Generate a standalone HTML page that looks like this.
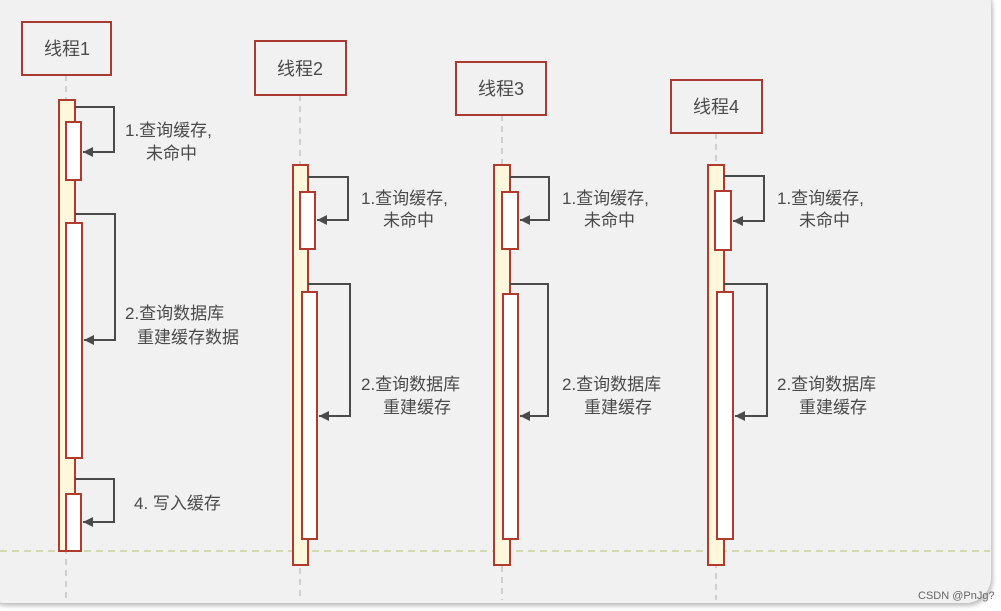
<!DOCTYPE html>
<html><head><meta charset="utf-8"><style>
html,body{margin:0;padding:0;background:#fff;}
svg{display:block;}
text{font-family:"Liberation Sans","Noto Sans CJK SC",sans-serif;fill:#4a4a4a;}
</style></head><body>
<svg width="1001" height="611" viewBox="0 0 1001 611" xmlns="http://www.w3.org/2000/svg">
<defs>
<filter id="sh" x="-5%" y="-5%" width="110%" height="110%"><feDropShadow dx="2" dy="3" stdDeviation="2" flood-color="#000" flood-opacity="0.25"/></filter>
<marker id="ah" markerWidth="12" markerHeight="12" refX="10" refY="5" orient="auto" markerUnits="userSpaceOnUse"><path d="M0,0 L10,5 L0,10 z" fill="#4a4a4a"/></marker>
</defs>
<rect x="-20" y="-20" width="1011" height="623" rx="26" fill="#f1f1f1" filter="url(#sh)"/>
<rect x="-20" y="-20" width="40" height="40" fill="#f1f1f1"/>
<g stroke="#c4c4c4" stroke-width="1.5" stroke-dasharray="6,5">
<line x1="66" y1="75" x2="66" y2="600"/>
<line x1="300" y1="95" x2="300" y2="600"/>
<line x1="502" y1="115" x2="502" y2="600"/>
<line x1="716" y1="133" x2="716" y2="600"/>
</g>
<line x1="0" y1="551" x2="990" y2="551" stroke="#c9cf9b" stroke-width="1.5" stroke-dasharray="7,5"/>
<g fill="#f1f1f1" stroke="#a83a32" stroke-width="2">
<rect x="22" y="22" width="89" height="53"/>
<rect x="255" y="41" width="91" height="54"/>
<rect x="456" y="62" width="90" height="53"/>
<rect x="671" y="80" width="91" height="53"/>
</g>
<g font-size="18" text-anchor="middle">
<text x="67" y="55">线程1</text>
<text x="300" y="75">线程2</text>
<text x="501" y="95">线程3</text>
<text x="716" y="113">线程4</text>
</g>
<g stroke="#b03a2e" stroke-width="2">
<rect x="59" y="100" width="16" height="451" fill="#fdf8dc"/>
<rect x="293" y="165" width="15" height="400" fill="#fdf8dc"/>
<rect x="494" y="165" width="16" height="400" fill="#fdf8dc"/>
<rect x="708" y="165" width="16" height="400" fill="#fdf8dc"/>
<g fill="#fff">
<rect x="66" y="122" width="15" height="58"/>
<rect x="66" y="223" width="16" height="235"/>
<rect x="66" y="494" width="15" height="57"/>
<rect x="300" y="192" width="15" height="57"/>
<rect x="302" y="292" width="15" height="247"/>
<rect x="502" y="192" width="16" height="57"/>
<rect x="503" y="294" width="15" height="245"/>
<rect x="715" y="191" width="16" height="59"/>
<rect x="717" y="292" width="16" height="247"/>
</g>
</g>
<g fill="none" stroke="#4a4a4a" stroke-width="2" marker-end="url(#ah)">
<polyline points="75,107 114,107 114,152 83,152"/>
<polyline points="75,214 115,214 115,340 84,340"/>
<polyline points="75,479 114,479 114,522 83,522"/>
<polyline points="308,177 348,177 348,220 317,220"/>
<polyline points="308,284 350,284 350,416 319,416"/>
<polyline points="510,177 549,177 549,220 520,220"/>
<polyline points="510,284 548,284 548,416 520,416"/>
<polyline points="724,176 764,176 764,221 733,221"/>
<polyline points="724,284 767,284 767,416 735,416"/>
</g>
<g font-size="17">
<text x="125" y="136">1.查询缓存,</text><text x="146" y="159">未命中</text>
<text x="125" y="319">2.查询数据库</text><text x="137" y="343">重建缓存数据</text>
<text x="134" y="509">4.  写入缓存</text>
<text x="361" y="204">1.查询缓存,</text><text x="383" y="226">未命中</text>
<text x="361" y="390">2.查询数据库</text><text x="383" y="413">重建缓存</text>
<text x="562" y="204">1.查询缓存,</text><text x="584" y="226">未命中</text>
<text x="562" y="390">2.查询数据库</text><text x="584" y="413">重建缓存</text>
<text x="777" y="204">1.查询缓存,</text><text x="799" y="226">未命中</text>
<text x="777" y="390">2.查询数据库</text><text x="799" y="413">重建缓存</text>
</g>
<text x="918" y="599" font-size="11" style="fill:#666">CSDN @PnJg?</text>
</svg>
</body></html>
